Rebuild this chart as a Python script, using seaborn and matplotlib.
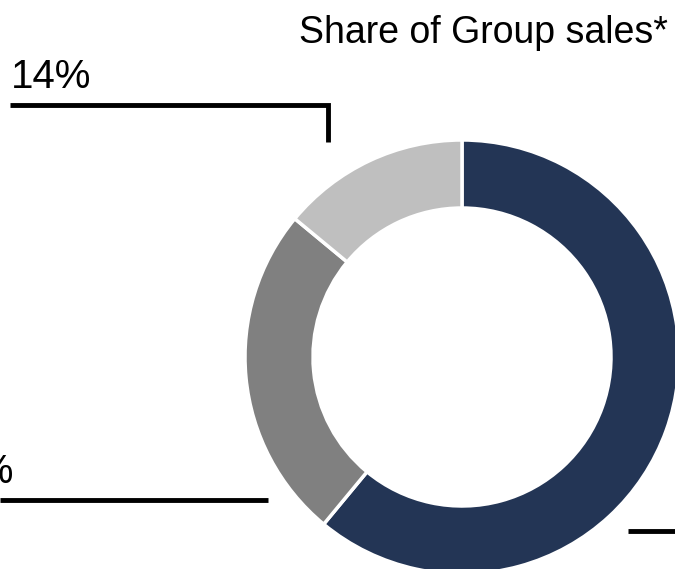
import numpy as np
import matplotlib
matplotlib.use('Agg')
import matplotlib.pyplot as plt
import seaborn as sns

# data
segments = ['Segment A', 'Segment B', 'Segment C']
shares = [61, 25, 14]
colours = ['#233555', '#808080', '#bfbfbf']
labels = ['61%', '25%', '14%']
title = 'Share of Group sales*'

sns.set_theme(style='white')
plt.rcParams['font.family'] = ['Liberation Sans', 'DejaVu Sans']
plt.rcParams['text.color'] = 'black'

W, H = 675, 569
fig = plt.figure(figsize=(W / 100, H / 100), dpi=100)
ax = fig.add_axes([0, 0, 1, 1])

# donut, measured in pixels of the reference (y upwards)
cx, cy, R, ring = 462, H - 357, 217, 68
ax.pie(shares, colors=colours, startangle=90, counterclock=False,
       center=(cx, cy), radius=R, frame=True,
       wedgeprops=dict(width=ring, edgecolor='white', linewidth=2.5))
ax.set_xlim(0, W)
ax.set_ylim(0, H)
ax.set_aspect('equal')
ax.axis('off')

ax.text(668, H - 43, title, ha='right', va='baseline', fontsize=27)

# leader lines and labels
fs = 29
lw = 3.5
ax.plot([10, 328, 328], [H - 105, H - 105, H - 142], color='black',
        lw=lw, solid_joinstyle='miter', solid_capstyle='butt')
ax.text(11, H - 88, labels[2], ha='left', va='baseline', fontsize=fs)

ax.plot([0, 268], [H - 500, H - 500], color='black', lw=lw,
        solid_capstyle='butt')
ax.text(13, H - 483, labels[1], ha='right', va='baseline', fontsize=fs)

ax.plot([628, 675], [H - 531, H - 531], color='black', lw=lw,
        solid_capstyle='butt')

plt.savefig('out.png', dpi=100)
plt.close()
